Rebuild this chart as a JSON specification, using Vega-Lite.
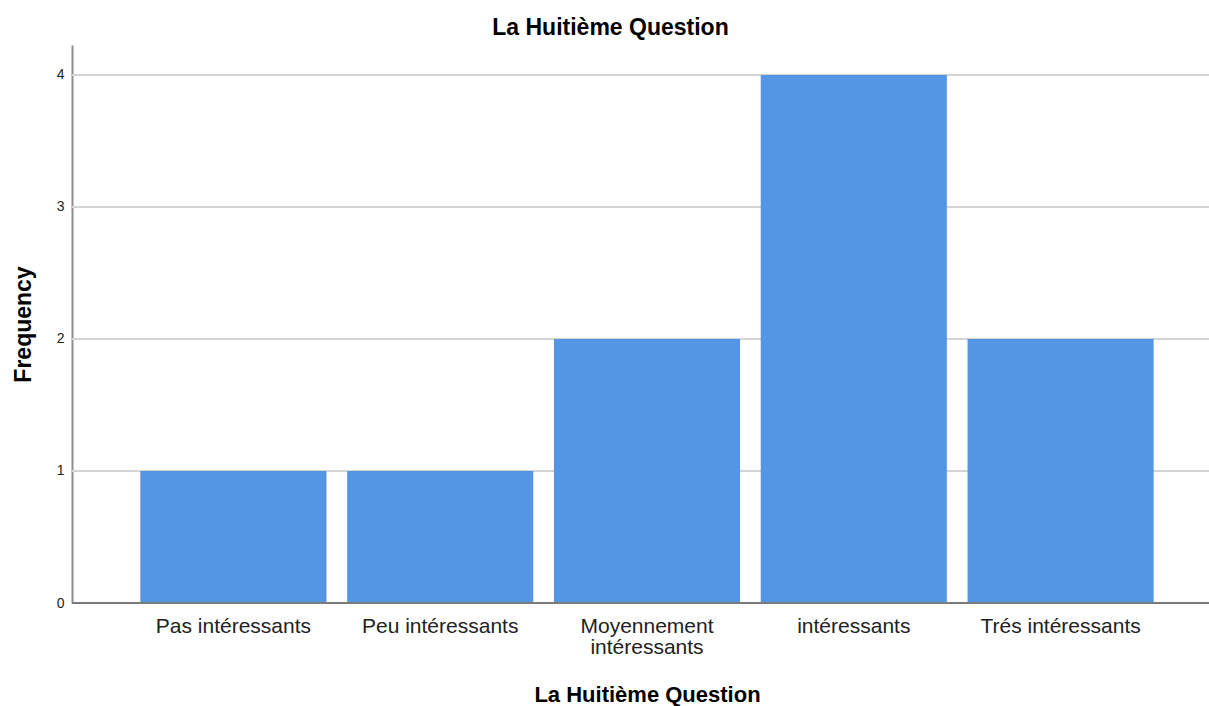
{
  "$schema": "https://vega.github.io/schema/vega-lite/v6.json",
  "width": 1137,
  "height": 558,
  "autosize": "none",
  "padding": {"left": 72, "top": 45, "right": 0, "bottom": 103},
  "background": "white",
  "config": {"view": {"stroke": null}, "font": "Liberation Sans"},
  "title": {
    "text": "La Huitième Question",
    "anchor": "middle",
    "dx": -30,
    "offset": 5,
    "fontSize": 23,
    "fontWeight": "bold",
    "font": "Liberation Sans",
    "color": "#000000"
  },
  "data": {
    "values": [
      {"cat": "Pas intéressants", "freq": 1},
      {"cat": "Peu intéressants", "freq": 1},
      {"cat": "Moyennement intéressants", "freq": 2},
      {"cat": "intéressants", "freq": 4},
      {"cat": "Trés intéressants", "freq": 2}
    ]
  },
  "layer": [
    {
      "data": {"values": [{"g": 1}, {"g": 2}, {"g": 3}, {"g": 4}]},
      "mark": {"type": "rule", "color": "#d4d4d4", "strokeWidth": 2},
      "encoding": {"y": {"field": "g", "type": "quantitative"}}
    },
    {
      "mark": {"type": "bar", "color": "#5596e4"},
      "encoding": {
        "x": {
          "field": "cat",
          "type": "nominal",
          "sort": null,
          "scale": {"range": [58, 1092], "paddingInner": 0.1, "paddingOuter": 0.05},
          "axis": {
            "title": "La Huitième Question",
            "titleFontSize": 22,
            "titleFontWeight": "bold",
            "titleFont": "Liberation Sans",
            "titleColor": "#000000",
            "titleY": 91,
            "titleBaseline": "middle",
            "titleX": 575,
            "domain": false,
            "ticks": false,
            "labelAngle": 0,
            "labelFontSize": 21,
            "labelColor": "#222222",
            "labelPadding": 12,
            "labelLineHeight": 21,
            "labelBaseline": "top",
            "labelOverlap": false,
            "labelExpr": "datum.value == 'Moyennement intéressants' ? ['Moyennement', 'intéressants'] : datum.value"
          }
        },
        "y": {
          "field": "freq",
          "type": "quantitative",
          "scale": {"domain": [0, 4.227], "nice": false},
          "axis": {
            "title": "Frequency",
            "titleFontSize": 23,
            "titleFontWeight": "bold",
            "titleColor": "#000000",
            "titleX": -49,
            "titleY": 279,
            "titleAngle": -90,
            "titleAlign": "center",
            "titleBaseline": "middle",
            "values": [0, 1, 2, 3, 4],
            "format": "d",
            "ticks": false,
            "labelPadding": 8,
            "labelFontSize": 14,
            "labelColor": "#222222",
            "domainColor": "#8c8c8c",
            "domainWidth": 2,
            "grid": false
          }
        }
      }
    },
    {
      "mark": {"type": "rule", "color": "#7a7a7a", "strokeWidth": 2},
      "encoding": {"y": {"datum": 0}}
    }
  ]
}
